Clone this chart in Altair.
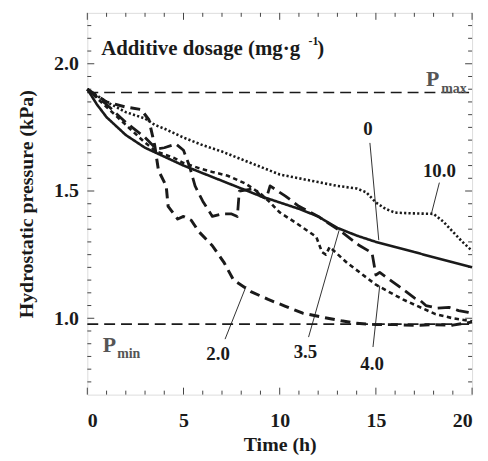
import altair as alt
import pandas as pd

# ---- data ----
t_0 = [0, 0.5, 1, 2, 3, 4, 5, 6, 7, 8, 9, 10, 11, 12, 13, 14, 15, 16, 17, 18, 19, 20]
p_0 = [1.90, 1.84, 1.79, 1.72, 1.67, 1.635, 1.60, 1.57, 1.54, 1.51, 1.48, 1.455, 1.43, 1.40, 1.355, 1.325, 1.30, 1.28, 1.26, 1.24, 1.22, 1.20]

t_10 = [0, 1, 2, 3, 3.5, 4, 5, 6, 7, 8, 9, 10, 11, 12, 13, 14, 14.5, 15, 15.5, 16, 17, 18, 18.5, 19, 19.5, 20]
p_10 = [1.90, 1.85, 1.81, 1.785, 1.76, 1.745, 1.71, 1.68, 1.655, 1.625, 1.595, 1.565, 1.55, 1.535, 1.52, 1.51, 1.495, 1.455, 1.43, 1.415, 1.412, 1.41, 1.38, 1.34, 1.30, 1.265]

t_2 = [0, 1, 2, 2.8, 3.2, 3.5, 3.7, 4.1, 4.2, 4.7, 5.0, 5.4, 5.8, 6.5, 7.1, 7.6, 8.5, 9.4, 10.3, 11.2, 12.5, 13.2, 14, 15, 16, 17, 18, 19, 20]
p_2 = [1.90, 1.85, 1.83, 1.82, 1.78, 1.68, 1.58, 1.52, 1.44, 1.39, 1.40, 1.385, 1.34, 1.285, 1.22, 1.15, 1.105, 1.074, 1.047, 1.02, 1.0, 0.99, 0.98, 0.975, 0.975, 0.972, 0.975, 0.973, 0.985]

t_35 = [0, 1, 2, 3, 3.6, 4.0, 4.6, 5.0, 5.3, 5.6, 6.0, 6.5, 7.0, 7.5, 7.8, 7.9, 8.7, 9.0, 9.3, 9.5, 10.3, 11, 12, 12.5, 13.1, 14.1, 14.8, 15.0, 15.2, 16.3, 17, 17.3, 17.6, 18.2, 18.8, 19.3, 19.8, 20]
p_35 = [1.90, 1.84, 1.77, 1.71, 1.665, 1.67, 1.685, 1.66, 1.60, 1.52, 1.46, 1.40, 1.41, 1.41, 1.40, 1.50, 1.51, 1.48, 1.47, 1.52, 1.48, 1.44, 1.40, 1.375, 1.346, 1.288, 1.257, 1.17, 1.18, 1.12, 1.08, 1.07, 1.05, 1.04, 1.043, 1.03, 1.023, 1.02]

t_4 = [0, 1, 2, 3, 3.6, 4.5, 5, 5.8, 6.5, 7.3, 8.2, 9.0, 9.5, 10, 10.8, 11.4, 11.9, 12.2, 12.4, 12.6, 13.5, 15, 16.4, 18.1, 19, 20]
p_4 = [1.90, 1.83, 1.76, 1.69, 1.655, 1.63, 1.61, 1.59, 1.575, 1.56, 1.53, 1.49, 1.455, 1.416, 1.377, 1.346, 1.32, 1.26, 1.25, 1.28, 1.218, 1.132, 1.074, 1.016, 1.0, 0.988]

p_max = [1.887]
p_min = [0.977]

ann_label = ["0", "10.0", "2.0", "3.5", "4.0"]
ann_tx = [14.59, 18.3, 6.8, 11.34, 14.8]
ann_ty = [1.743, 1.58, 0.86, 0.868, 0.821]
ptr_x1 = [14.69, 18.3, 7.16, 11.5, 14.85]
ptr_y1 = [1.689, 1.533, 0.918, 0.926, 0.887]
ptr_x2 = [15.15, 17.89, 8.25, 13.09, 15.2]
ptr_y2 = [1.307, 1.412, 1.125, 1.346, 1.128]

x_major = [0, 5, 10, 15, 20]
x_minor = [v for v in range(0, 21) if v % 5 != 0]
y_major = [1.0, 1.5, 2.0]
y_minor = [round(0.7 + 0.05 * i, 2) for i in range(1, 30) if round(0.7 + 0.05 * i, 2) not in (1.0, 1.5, 2.0)]

W, H = 388, 385
FONT = "Liberation Serif"
INK = "#1a1a1a"

xs = alt.Scale(domain=[0, 20], nice=False, zero=False)
ys = alt.Scale(domain=[0.7, 2.2], nice=False, zero=False)

series = [
    ("0", t_0, p_0, [1, 0], 2.6),
    ("10.0", t_10, p_10, [2.2, 2.2], 2.6),
    ("2.0", t_2, p_2, [10, 6], 3.0),
    ("3.5", t_35, p_35, [13, 6], 2.8),
    ("4.0", t_4, p_4, [4.5, 3.5], 2.6),
]

layers = []

base_df = pd.DataFrame({"t": [0, 20], "p": [0.7, 2.2]})
axes = alt.Chart(base_df).mark_point(opacity=0).encode(
    x=alt.X("t:Q", scale=xs, title="Time (h)",
            axis=alt.Axis(values=x_major, format="d", ticks=False, domain=False, grid=False,
                          labelPadding=16, labelFontSize=20, labelFont=FONT, labelFontWeight="bold",
                          labelColor=INK, titleFont=FONT, titleFontSize=20, titleFontWeight="bold",
                          titleColor=INK, titlePadding=4)),
    y=alt.Y("p:Q", scale=ys, title="Hydrostatic pressure (kPa)",
            axis=alt.Axis(values=y_major, format=".1f", ticks=False, domain=False, grid=False,
                          labelPadding=9, labelFontSize=20, labelFont=FONT, labelFontWeight="bold",
                          labelColor=INK, titleFont=FONT, titleFontSize=20, titleFontWeight="bold",
                          titleColor=INK, titlePadding=17)),
)
layers.append(axes)

def xticks(vals, ln):
    d = pd.DataFrame({"t": vals})
    bot = alt.Chart(d).mark_rule(color="#444", strokeWidth=1).encode(
        x=alt.X("t:Q", scale=xs), y=alt.value(H), y2=alt.value(H - ln))
    top = alt.Chart(d).mark_rule(color="#444", strokeWidth=1).encode(
        x=alt.X("t:Q", scale=xs), y=alt.value(0), y2=alt.value(ln))
    return [bot, top]

def yticks(vals, ln):
    d = pd.DataFrame({"p": vals})
    left = alt.Chart(d).mark_rule(color="#444", strokeWidth=1).encode(
        y=alt.Y("p:Q", scale=ys), x=alt.value(0), x2=alt.value(ln))
    right = alt.Chart(d).mark_rule(color="#444", strokeWidth=1).encode(
        y=alt.Y("p:Q", scale=ys), x=alt.value(W), x2=alt.value(W - ln))
    return [left, right]

layers += xticks(x_major, 7) + xticks(x_minor, 4) + yticks(y_major, 7) + yticks(y_minor, 4)

for val in (p_max, p_min):
    d = pd.DataFrame({"p": val})
    layers.append(alt.Chart(d).mark_rule(color=INK, strokeWidth=1.6, strokeDash=[11, 6]).encode(
        y=alt.Y("p:Q", scale=ys), x=alt.value(0), x2=alt.value(W)))

for name, tt, pp, dash, sw in series:
    d = pd.DataFrame({"t": tt, "p": pp})
    layers.append(alt.Chart(d).mark_line(color=INK, strokeWidth=sw, strokeDash=dash,
                                         strokeJoin="round", strokeCap="butt").encode(
        x=alt.X("t:Q", scale=xs), y=alt.Y("p:Q", scale=ys), order="t:Q"))

ptr_df = pd.DataFrame({"x1": ptr_x1, "y1": ptr_y1, "x2": ptr_x2, "y2": ptr_y2})
layers.append(alt.Chart(ptr_df).mark_rule(color=INK, strokeWidth=0.9).encode(
    x=alt.X("x1:Q", scale=xs), y=alt.Y("y1:Q", scale=ys), x2="x2:Q", y2="y2:Q"))

ann_df = pd.DataFrame({"label": ann_label, "t": ann_tx, "p": ann_ty})
layers.append(alt.Chart(ann_df).mark_text(font=FONT, fontSize=19, fontWeight="bold", color=INK,
                                          align="center", baseline="middle").encode(
    x=alt.X("t:Q", scale=xs), y=alt.Y("p:Q", scale=ys), text="label:N"))

title_df = pd.DataFrame({"t": [0.72], "p": [2.058], "s": ["Additive dosage (mg·g"]})
layers.append(alt.Chart(title_df).mark_text(font=FONT, fontSize=21, fontWeight="bold", color=INK,
                                            align="left", baseline="middle").encode(
    x=alt.X("t:Q", scale=xs), y=alt.Y("p:Q", scale=ys), text="s:N"))
sup_df = pd.DataFrame({"t": [11.5], "p": [2.09], "s": ["-1"]})
layers.append(alt.Chart(sup_df).mark_text(font=FONT, fontSize=12, fontWeight="bold", color=INK,
                                          align="left", baseline="middle").encode(
    x=alt.X("t:Q", scale=xs), y=alt.Y("p:Q", scale=ys), text="s:N"))
par_df = pd.DataFrame({"t": [11.95], "p": [2.058], "s": [")"]})
layers.append(alt.Chart(par_df).mark_text(font=FONT, fontSize=21, fontWeight="bold", color=INK,
                                          align="left", baseline="middle").encode(
    x=alt.X("t:Q", scale=xs), y=alt.Y("p:Q", scale=ys), text="s:N"))

GREY = "#555555"
pl_df = pd.DataFrame({"t": [17.6, 0.8], "p": [1.94, 0.895], "s": ["P", "P"]})
layers.append(alt.Chart(pl_df).mark_text(font=FONT, fontSize=22, fontWeight="bold", color=GREY,
                                         align="left", baseline="middle").encode(
    x=alt.X("t:Q", scale=xs), y=alt.Y("p:Q", scale=ys), text="s:N"))
sub_df = pd.DataFrame({"t": [18.4, 1.55], "p": [1.90, 0.86], "s": ["max", "min"]})
layers.append(alt.Chart(sub_df).mark_text(font=FONT, fontSize=14, fontWeight="bold", color=GREY,
                                          align="left", baseline="middle").encode(
    x=alt.X("t:Q", scale=xs), y=alt.Y("p:Q", scale=ys), text="s:N"))

chart = alt.layer(*layers).properties(
    width=W, height=H,
    autosize=alt.AutoSizeParams(type="none"),
    padding={"left": 80, "top": 3, "right": 8, "bottom": 60},
).configure_view(stroke="#333333", strokeWidth=1.2).configure(background="white")

chart.save("out.html", embed_options={"renderer": "svg", "actions": False})
